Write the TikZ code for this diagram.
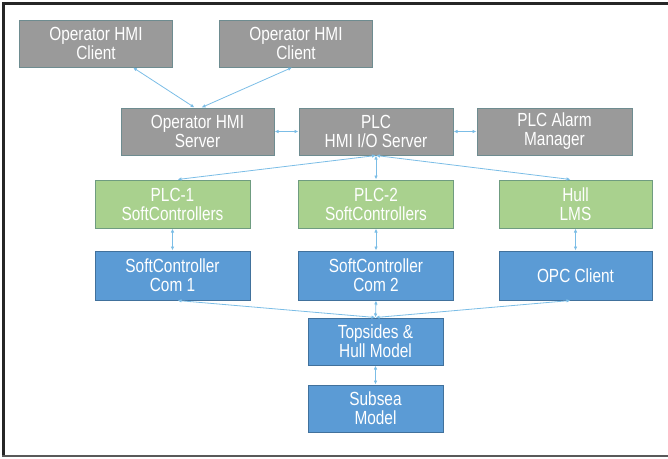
\documentclass[tikz,border=0pt]{standalone}
\usepackage{fontspec}
\setmainfont{Liberation Sans}[FakeStretch=0.81]
\usetikzlibrary{arrows.meta}

\definecolor{boxgray}{HTML}{9A9A9A}
\definecolor{edgegray}{HTML}{6E8C90}
\definecolor{boxgreen}{HTML}{A9D18E}
\definecolor{edgegreen}{HTML}{6F9C80}
\definecolor{boxblue}{HTML}{5B9BD5}
\definecolor{edgeblue}{HTML}{41719C}
\definecolor{linkblue}{HTML}{7BBDE6}

\begin{document}
\begin{tikzpicture}[x=1pt,y=-1pt,
  box/.style={draw,line width=1pt,inner sep=0pt,align=center,text=white,
    minimum width=153pt,minimum height=47pt,
    font=\fontsize{19}{19}\selectfont},
  graybox/.style={box,fill=boxgray,draw=edgegray},
  greenbox/.style={box,fill=boxgreen,draw=edgegreen,minimum width=155pt,minimum height=48pt},
  bluebox/.style={box,fill=boxblue,draw=edgeblue,minimum width=155pt,minimum height=49pt},
  link/.style={linkblue,line width=0.8pt,{Latex[length=4pt,width=3.5pt]}-{Latex[length=4pt,width=3.5pt]}}]
\useasboundingbox (0,0) rectangle (668,458);

% frame
\draw[line width=2.5pt,black!85] (2,3.5) -- (668,3.5);
\draw[line width=2.5pt,black!85] (3.5,2) -- (3.5,457);
\draw[line width=2pt,black!65] (2,456) -- (668,456);

% HMI layer
\node[graybox] (cli1) at (96,43.5) {Operator HMI\\Client};
\node[graybox] (cli2) at (296,43.5) {Operator HMI\\Client};
\node[graybox] (opsrv) at (197.5,131.5) {Operator HMI\\Server};
\node[graybox,minimum width=154pt] (plcsrv) at (376,131.5) {PLC\\HMI I/O Server};
\node[graybox,minimum width=155pt] (alarm) at (554.5,131.5) {PLC Alarm\\Manager};

% controllers
\node[greenbox] (plc1) at (172.5,204) {PLC-1\\SoftControllers};
\node[greenbox] (plc2) at (376,204) {PLC-2\\SoftControllers};
\node[greenbox,minimum width=153pt] (hull) at (575.5,204) {Hull\\LMS};

% communication
\node[bluebox] (com1) at (172.5,275.5) {SoftController\\Com 1};
\node[bluebox] (com2) at (376,275.5) {SoftController\\Com 2};
\node[bluebox,minimum width=153pt] (opc) at (575.5,275.5) {OPC Client};

% models
\node[bluebox,minimum width=135pt,minimum height=47pt] (topm) at (375.5,341.5) {Topsides \&\\Hull Model};
\node[bluebox,minimum width=135pt,minimum height=47pt] (subm) at (375.5,408.5) {Subsea\\Model};

% links
\draw[link] ([xshift=37pt]cli1.south) -- ([xshift=-3pt]opsrv.north);
\draw[link] ([xshift=-4pt]cli2.south) -- ([xshift=4pt]opsrv.north);
\draw[link] (opsrv) -- (plcsrv);
\draw[link] (plcsrv) -- (alarm);
\draw[link] (plcsrv.south) -- ([xshift=5pt]plc1.north);
\draw[link] (plcsrv.south) -- (plc2.north);
\draw[link] (plcsrv.south) -- ([xshift=-5pt]hull.north);
\draw[link] (plc1) -- (com1);
\draw[link] (plc2) -- (com2);
\draw[link] (hull) -- (opc);
\draw[link] ([xshift=5pt]com1.south) -- (topm.north);
\draw[link] (com2.south) -- (topm.north);
\draw[link] ([xshift=-5pt]opc.south) -- (topm.north);
\draw[link] (topm) -- (subm);

\end{tikzpicture}
\end{document}
